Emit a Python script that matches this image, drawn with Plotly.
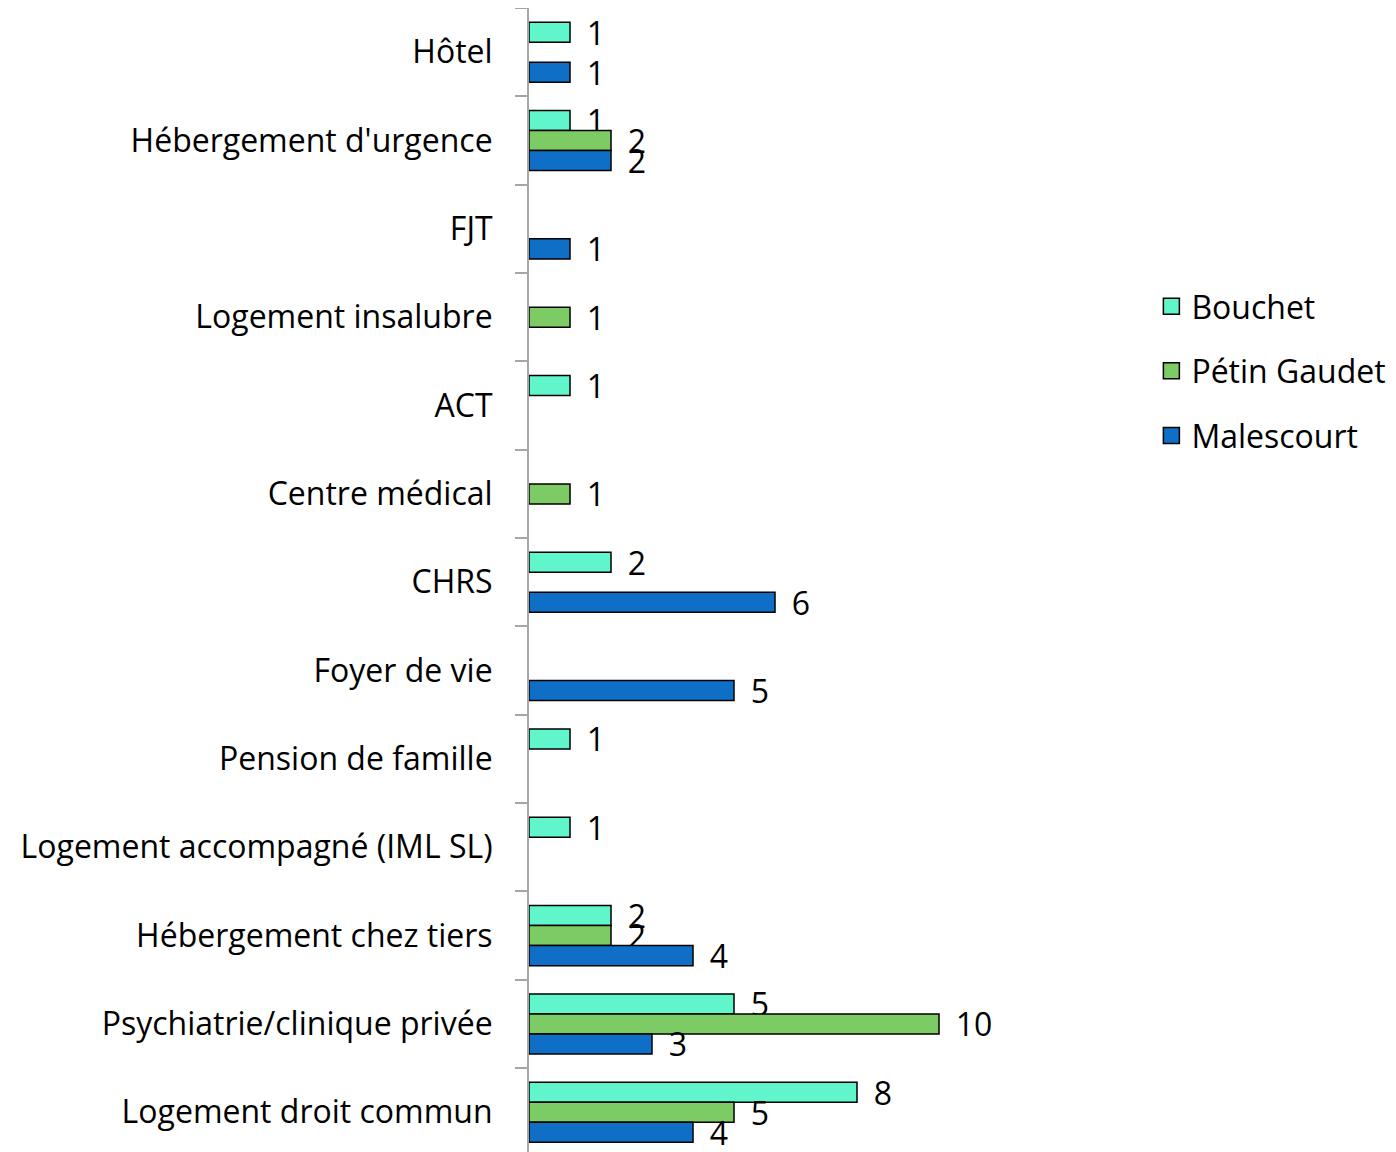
import plotly.graph_objects as go

categories = [
    "Hôtel",
    "Hébergement d'urgence",
    "FJT",
    "Logement insalubre",
    "ACT",
    "Centre médical",
    "CHRS",
    "Foyer de vie",
    "Pension de famille",
    "Logement accompagné (IML SL)",
    "Hébergement chez tiers",
    "Psychiatrie/clinique privée",
    "Logement droit commun",
]
bouchet = [1, 1, None, None, 1, None, 2, None, 1, 1, 2, 5, 8]
petin_gaudet = [None, 2, None, 1, None, 1, None, None, None, None, 2, 10, 5]
malescourt = [1, 2, 1, None, None, None, 6, 5, None, None, 4, 3, 4]

series = [
    ("Bouchet", bouchet, "#61F5CB"),
    ("Pétin Gaudet", petin_gaudet, "#7DCB64"),
    ("Malescourt", malescourt, "#0F6FC6"),
]

FONT = "Open Sans, Noto Sans, sans-serif"
SIZE = 32

fig = go.Figure()
for name, values, color in series:
    fig.add_trace(
        go.Bar(
            y=categories,
            x=values,
            name=name,
            orientation="h",
            legendgroup=name,
            showlegend=False,
            marker=dict(color=color, line=dict(color="#000000", width=1.5)),
            texttemplate=" \u2009%{x}",
            textposition="outside",
            constraintext="none",
            cliponaxis=False,
            textfont=dict(family=FONT, size=SIZE, color="#000000"),
        )
    )
    # legend entry with a larger square swatch
    fig.add_trace(
        go.Scatter(
            x=[None],
            y=[None],
            mode="markers",
            name=name,
            legendgroup=name,
            marker=dict(symbol="square", size=20, color=color,
                        line=dict(color="#000000", width=1.5)),
            hoverinfo="skip",
        )
    )

fig.update_layout(
    width=1396,
    height=1152,
    margin=dict(l=521, r=260, t=0, b=0),
    paper_bgcolor="white",
    plot_bgcolor="white",
    barmode="group",
    bargap=0.32,
    bargroupgap=0,
    font=dict(family=FONT, size=SIZE, color="#000000"),
    legend=dict(
        x=1.012,
        xanchor="left",
        y=0.685,
        yanchor="middle",
        traceorder="grouped",
        tracegroupgap=20,
        font=dict(family=FONT, size=SIZE, color="#000000"),
        itemwidth=30,
        itemsizing="trace",
    ),
    showlegend=True,
)
fig.update_xaxes(visible=False, range=[0, 15], showgrid=False, zeroline=False)
fig.update_yaxes(
    type="category",
    autorange=False,
    range=[12.54, -0.5],
    showline=True,
    linecolor="#A6A6A6",
    linewidth=2,
    ticks="outside",
    tickson="boundaries",
    ticklen=12,
    tickwidth=2,
    tickcolor="#A6A6A6",
    ticklabelstandoff=28,
    showgrid=False,
    tickfont=dict(family=FONT, size=SIZE, color="#000000"),
)

fig.write_html("out.html")
